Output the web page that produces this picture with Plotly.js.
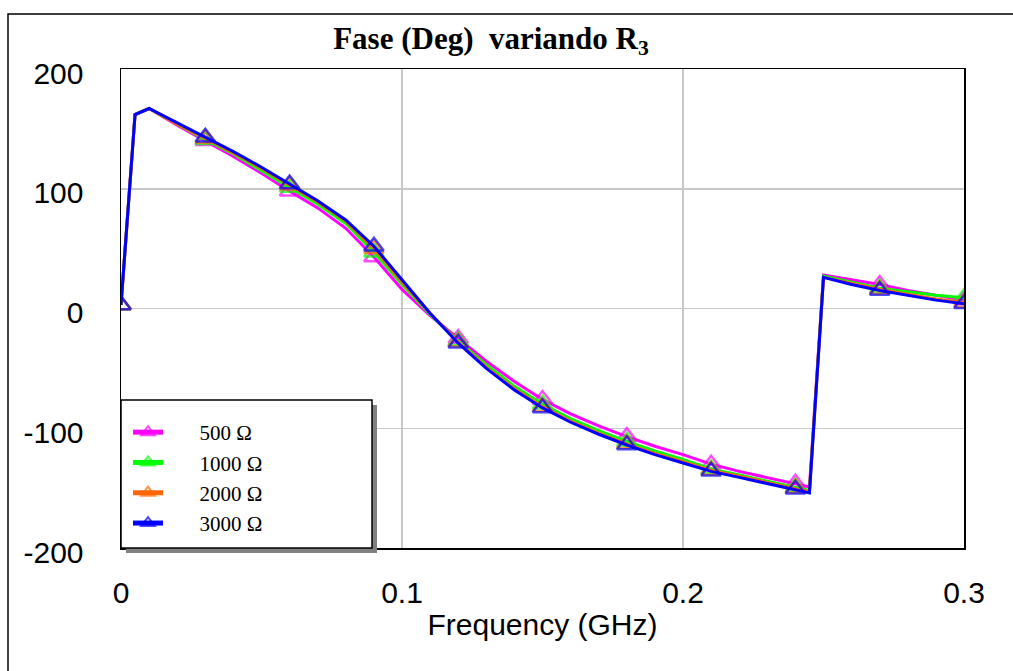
<!DOCTYPE html>
<html>
<head>
<meta charset="utf-8">
<script src="https://cdn.plot.ly/plotly-3.0.1.min.js"></script>
<style>html,body{margin:0;padding:0;background:#fff;}#chart{width:1013px;height:671px;}</style>
</head>
<body>
<div id="chart"></div>
<script>
// Frequency (GHz)
const freq = [0, 0.005, 0.01, 0.02, 0.03, 0.04, 0.05, 0.06, 0.07, 0.08, 0.09, 0.10, 0.11, 0.12, 0.13, 0.14, 0.15, 0.16, 0.17, 0.18, 0.19, 0.20, 0.21, 0.22, 0.23, 0.24, 0.245, 0.25, 0.26, 0.27, 0.28, 0.29, 0.30];
// Phase (deg) for each R3 value
const r500  = [3, 162, 167, 153, 140, 127, 113, 98, 84, 67, 43, 16, -6, -25, -44, -61, -76, -88, -98, -107, -115, -122, -130, -136, -141, -146, -149, 28, 24, 20, 15, 11, 7];
const r1000 = [3, 162, 167, 154, 141, 129, 115, 101, 87, 71, 47, 20, -5, -27, -47, -65, -80, -92, -102, -111, -119, -126, -134, -139, -144, -149, -152, 27, 22, 17, 14, 11, 9];
const r2000 = [3, 162, 167, 154, 142, 130, 117, 103, 89, 73, 50, 22, -4, -28, -49, -67, -82, -94, -104, -113, -121, -128, -135, -140, -145, -150, -153, 26, 21, 16, 12, 8, 5];
const r3000 = [3, 162, 167, 155, 143, 131, 118, 104, 90, 74, 52, 24, -4, -29, -50, -68, -83, -95, -105, -114, -122, -129, -136, -141, -146, -151, -154, 26, 20, 15, 11, 7, 4];
const seriesNames = ["500 \u03A9", "1000 \u03A9", "2000 \u03A9", "3000 \u03A9"];
const seriesData = [r500, r1000, r2000, r3000];
const seriesColors = ["#ff00ff", "#00ff00", "#ff6600", "#0000ff"];
const xTickVals = [0, 0.1, 0.2, 0.3];
const xTickText = ["0", "0.1", "0.2", "0.3"];
const yTickVals = [-200, -100, 0, 100, 200];
const yTickText = ["-200", "-100", "0", "100", "200"];

// markers shown every 0.03 GHz
const markerSizes = freq.map(f => Math.abs(Math.round(f / 0.03) * 0.03 - f) < 1e-9 ? 17 : 0);
const pad = "\u00A0\u00A0\u00A0\u00A0\u00A0\u00A0";

const traces = seriesData.map((ys, i) => ({
  type: "scatter",
  mode: "lines+markers",
  x: freq,
  y: ys,
  name: pad + seriesNames[i],
  line: {color: seriesColors[i], width: 3},
  marker: {symbol: "triangle-up-open", size: markerSizes, color: seriesColors[i], line: {width: 2.5, color: seriesColors[i]}}
}));

// pixel helpers for paper coords of decoration shapes
const L = 121, R = 964, T = 69, B = 548;
const px = v => (v - L) / (R - L);
const py = v => (B - v) / (B - T);

const layout = {
  width: 1013, height: 671,
  margin: {l: L, r: 1013 - R, t: T, b: 671 - B},
  paper_bgcolor: "#ffffff",
  plot_bgcolor: "#ffffff",
  showlegend: true,
  title: {
    text: "<b>Fase (Deg)  variando R<sub>3</sub></b>",
    font: {family: "Liberation Serif, Times New Roman, serif", size: 31, color: "#000"},
    x: 491 / 1013, xref: "container", xanchor: "center",
    y: 1 - 38 / 671, yref: "container", yanchor: "middle"
  },
  xaxis: {
    range: [0, 0.3],
    tickvals: xTickVals, ticktext: xTickText,
    ticks: "", ticklabelstandoff: 17,
    tickfont: {family: "Liberation Sans, Arial, sans-serif", size: 30, color: "#000"},
    showgrid: true, gridcolor: "#c8c8c8", gridwidth: 1.5,
    zeroline: false,
    showline: true, linecolor: "#000", linewidth: 1.5, mirror: true,
    title: {text: "Frequency (GHz)", standoff: 6, font: {family: "Liberation Sans, Arial, sans-serif", size: 30, color: "#000"}}
  },
  yaxis: {
    range: [-200, 200],
    tickvals: yTickVals, ticktext: yTickText,
    ticks: "", ticklabelstandoff: 30, ticklabelshift: 4,
    tickfont: {family: "Liberation Sans, Arial, sans-serif", size: 30, color: "#000"},
    showgrid: true, gridcolor: "#c8c8c8", gridwidth: 1.5,
    zeroline: false,
    showline: true, linecolor: "#000", linewidth: 1.5, mirror: true
  },
  legend: {
    x: px(128), y: py(412), xanchor: "left", yanchor: "top",
    bgcolor: "rgba(0,0,0,0)", borderwidth: 0,
    itemsizing: "constant",
    font: {family: "Liberation Serif, Times New Roman, serif", size: 21, color: "#000"}
  },
  shapes: [
    {type: "rect", xref: "paper", yref: "paper", x0: px(8), x1: px(1030), y0: py(690), y1: py(14),
     line: {color: "#000", width: 1.5}, fillcolor: "rgba(0,0,0,0)", layer: "below"},
    {type: "rect", xref: "paper", yref: "paper", x0: px(126), x1: px(377), y0: py(553), y1: py(405),
     line: {width: 0}, fillcolor: "#808080", layer: "above"},
    {type: "rect", xref: "paper", yref: "paper", x0: px(121), x1: px(372), y0: py(548), y1: py(400),
     line: {color: "#000", width: 1.5}, fillcolor: "#ffffff", layer: "above"}
  ]
};

Plotly.newPlot("chart", traces, layout, {displayModeBar: false, staticPlot: true});
</script>
</body>
</html>
